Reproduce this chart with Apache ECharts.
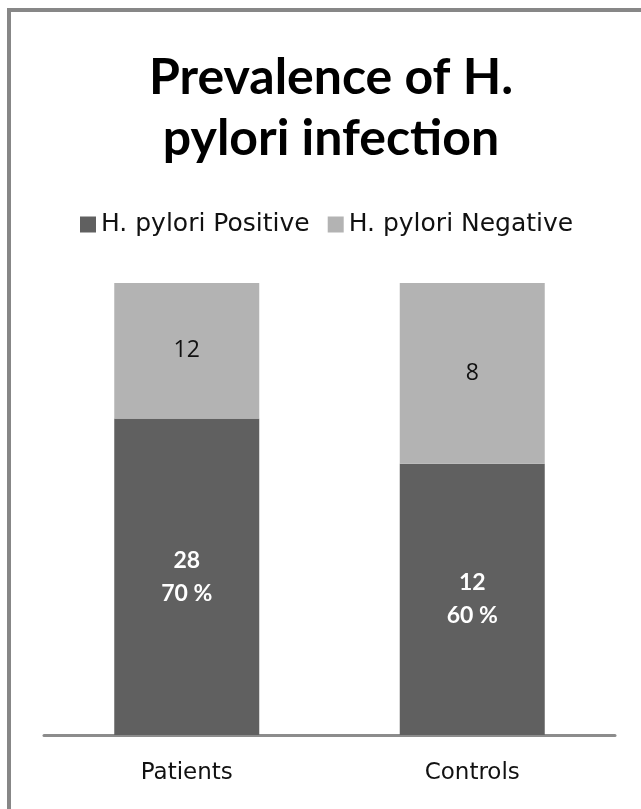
<!DOCTYPE html>
<html>
<head>
<meta charset="utf-8">
<script src="https://cdn.jsdelivr.net/npm/echarts@6/dist/echarts.min.js"></script>
<style>
  html, body { margin: 0; padding: 0; background: #fff; }
  #main { width: 641px; height: 809px; }
</style>
</head>
<body>
<div id="main"></div>
<script>
var categories = ['Patients', 'Controls'];
var positive = [28, 12];
var negative = [12, 8];

// share of each group, the bars are 100 % stacked
var totals = positive.map(function (v, i) { return v + negative[i]; });
var positivePct = positive.map(function (v, i) { return v / totals[i] * 100; });
var negativePct = negative.map(function (v, i) { return v / totals[i] * 100; });

var myChart = echarts.init(document.getElementById('main'));
myChart.setOption({
    animation: false,
    title: {
        text: 'Prevalence of H.\npylori infection',
        left: 326,
        textAlign: 'center',
        top: 42,
        textStyle: { fontFamily: 'Lato', fontWeight: 'bold', fontSize: 50, lineHeight: 61, color: '#000' }
    },
    legend: {
        top: 207,
        left: 75,
        itemWidth: 16,
        itemHeight: 16,
        itemGap: 18,
        icon: 'rect',
        textStyle: { fontFamily: 'DejaVu Sans', fontSize: 25, color: '#111' },
        data: ['H. pylori Positive', 'H. pylori Negative']
    },
    graphic: [{
        type: 'rect',
        shape: { x: 9, y: 10, width: 700, height: 900 },
        style: { fill: 'none', stroke: '#878787', lineWidth: 4 },
        silent: true
    }],
    grid: { left: 44, right: 26, top: 283, bottom: 74 },
    xAxis: {
        type: 'category',
        data: categories,
        axisLine: { lineStyle: { color: '#8c8c8c', width: 3 } },
        axisTick: { show: false },
        axisLabel: { fontFamily: 'DejaVu Sans', fontSize: 23, color: '#111', margin: 27 }
    },
    yAxis: { type: 'value', min: 0, max: 100, show: false, splitLine: { show: false } },
    series: [{
        name: 'H. pylori Positive',
        type: 'bar',
        stack: 'all',
        barWidth: 145,
        data: positivePct,
        itemStyle: { color: '#606060' },
        label: {
            show: true,
            position: 'inside',
            color: '#fff',
            fontFamily: 'Lato',
            fontWeight: 'bold',
            fontSize: 23,
            lineHeight: 33,
            formatter: function (p) {
                return positive[p.dataIndex] + '\n' + Math.round(p.value) + ' %';
            }
        }
    }, {
        name: 'H. pylori Negative',
        type: 'bar',
        stack: 'all',
        barWidth: 145,
        data: negativePct,
        itemStyle: { color: '#b3b3b3' },
        label: {
            show: true,
            position: 'inside',
            color: '#111',
            fontFamily: 'Open Sans',
            fontSize: 23,
            formatter: function (p) { return String(negative[p.dataIndex]); }
        }
    }]
});
</script>
</body>
</html>
